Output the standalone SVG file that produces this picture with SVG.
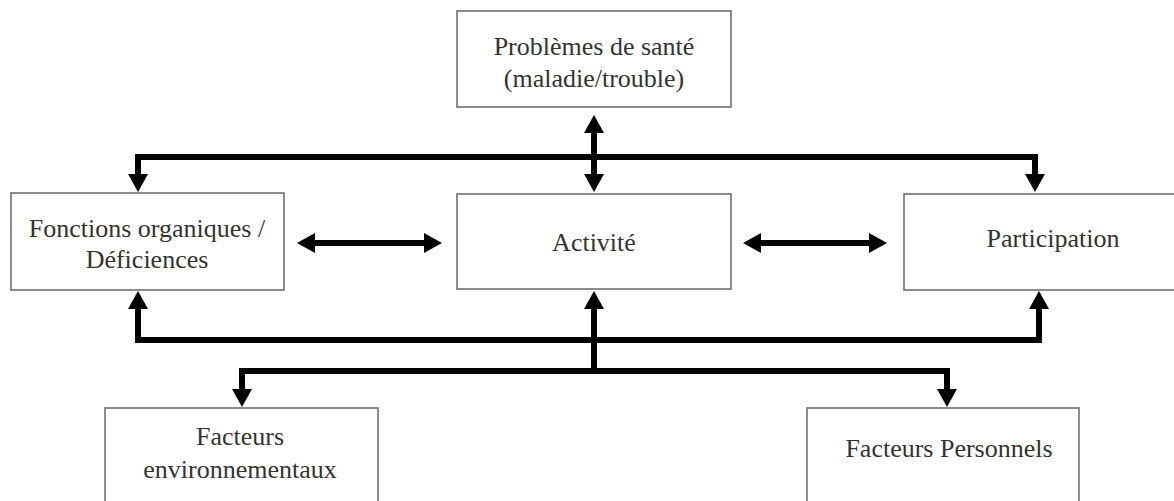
<svg xmlns="http://www.w3.org/2000/svg" width="1174" height="501" viewBox="0 0 1174 501">
<style>
.box{fill:#fff;stroke:#707070;stroke-width:1.6}
.lbl{font-family:"Liberation Serif","DejaVu Serif",serif;font-size:26px;fill:#333;text-anchor:middle}
.con{fill:none;stroke:#000;stroke-width:6;stroke-linejoin:miter}
</style>
<defs>
<marker id="ah" viewBox="0 0 18 20" refX="0" refY="10" markerWidth="18" markerHeight="20" markerUnits="userSpaceOnUse" orient="auto-start-reverse">
<path d="M0,0 L18,10 L0,20 z" fill="#000"/>
</marker>
</defs>
<rect width="1174" height="501" fill="#fff"/>
<g id="sante">
<rect class="box" x="457" y="11" width="274" height="96"/>
<text class="lbl" x="594" y="55">Problèmes de santé</text>
<text class="lbl" x="594" y="87">(maladie/trouble)</text>
</g>
<g id="fonctions">
<rect class="box" x="11" y="193" width="273" height="97"/>
<text class="lbl" x="147" y="237">Fonctions organiques /</text>
<text class="lbl" x="147" y="268">Déficiences</text>
</g>
<g id="activite">
<rect class="box" x="457" y="194" width="274" height="95"/>
<text class="lbl" x="594" y="251">Activité</text>
</g>
<g id="participation">
<rect class="box" x="904" y="194" width="280" height="96"/>
<text class="lbl" x="1053" y="247">Participation</text>
</g>
<g id="environnementaux">
<rect class="box" x="105" y="408" width="273" height="100"/>
<text class="lbl" x="240" y="445">Facteurs</text>
<text class="lbl" x="240" y="478">environnementaux</text>
</g>
<g id="personnels">
<rect class="box" x="807" y="408" width="272" height="100"/>
<text class="lbl" x="949" y="457">Facteurs Personnels</text>
</g>
<g id="connectors">
<path class="con" d="M594,133 V174" marker-start="url(#ah)" marker-end="url(#ah)"/>
<path class="con" d="M138,174 V157 H1035 V174" marker-start="url(#ah)" marker-end="url(#ah)"/>
<path class="con" d="M315,243 H424" marker-start="url(#ah)" marker-end="url(#ah)"/>
<path class="con" d="M761,243 H869" marker-start="url(#ah)" marker-end="url(#ah)"/>
<path class="con" d="M138,309 V340 H1039 V309" marker-start="url(#ah)" marker-end="url(#ah)"/>
<path class="con" d="M594,371 V309" marker-end="url(#ah)"/>
<path class="con" d="M242,389 V371 H947 V389" marker-start="url(#ah)" marker-end="url(#ah)"/>
</g>
</svg>
